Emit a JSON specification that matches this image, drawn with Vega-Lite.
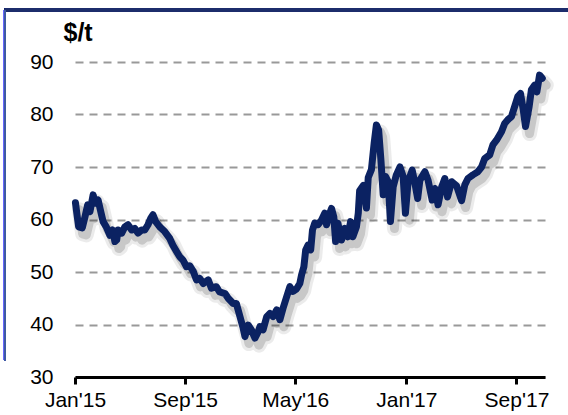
{
  "$schema": "https://vega.github.io/schema/vega-lite/v6.json",
  "autosize": {"type": "none"},
  "width": 470,
  "height": 315,
  "padding": {"left": 75, "top": 62, "right": 23, "bottom": 38},
  "background": "white",
  "config": {"view": {"stroke": null}, "font": "Liberation Sans"},
  "data": {"values": [
    {"date": "2015-01-02", "price": 63.2},
    {"date": "2015-01-05", "price": 61.2},
    {"date": "2015-01-09", "price": 58.6},
    {"date": "2015-01-17", "price": 58.4},
    {"date": "2015-01-23", "price": 60.5},
    {"date": "2015-01-29", "price": 62.8},
    {"date": "2015-02-03", "price": 61.5},
    {"date": "2015-02-10", "price": 64.7},
    {"date": "2015-02-15", "price": 63.1},
    {"date": "2015-02-21", "price": 63.7},
    {"date": "2015-02-25", "price": 62.2},
    {"date": "2015-03-04", "price": 59.6},
    {"date": "2015-03-11", "price": 58.6},
    {"date": "2015-03-19", "price": 57.0},
    {"date": "2015-03-25", "price": 58.0},
    {"date": "2015-03-30", "price": 55.8},
    {"date": "2015-04-03", "price": 56.1},
    {"date": "2015-04-06", "price": 58.0},
    {"date": "2015-04-14", "price": 57.4},
    {"date": "2015-04-21", "price": 58.6},
    {"date": "2015-04-28", "price": 59.0},
    {"date": "2015-05-06", "price": 58.0},
    {"date": "2015-05-13", "price": 58.3},
    {"date": "2015-05-20", "price": 57.4},
    {"date": "2015-05-28", "price": 58.0},
    {"date": "2015-06-04", "price": 58.0},
    {"date": "2015-06-11", "price": 59.0},
    {"date": "2015-06-17", "price": 60.2},
    {"date": "2015-06-22", "price": 60.9},
    {"date": "2015-06-28", "price": 59.6},
    {"date": "2015-07-07", "price": 58.6},
    {"date": "2015-07-18", "price": 57.7},
    {"date": "2015-07-29", "price": 56.4},
    {"date": "2015-08-05", "price": 55.1},
    {"date": "2015-08-13", "price": 53.9},
    {"date": "2015-08-20", "price": 52.9},
    {"date": "2015-08-27", "price": 52.3},
    {"date": "2015-09-04", "price": 51.0},
    {"date": "2015-09-11", "price": 51.2},
    {"date": "2015-09-19", "price": 50.1},
    {"date": "2015-09-26", "price": 48.5},
    {"date": "2015-10-03", "price": 48.8},
    {"date": "2015-10-11", "price": 47.8},
    {"date": "2015-10-22", "price": 48.5},
    {"date": "2015-10-29", "price": 46.9},
    {"date": "2015-11-09", "price": 47.2},
    {"date": "2015-11-16", "price": 46.2},
    {"date": "2015-11-28", "price": 45.9},
    {"date": "2015-12-05", "price": 45.0},
    {"date": "2015-12-16", "price": 44.0},
    {"date": "2015-12-23", "price": 44.0},
    {"date": "2015-12-31", "price": 41.5},
    {"date": "2016-01-07", "price": 39.3},
    {"date": "2016-01-11", "price": 37.7},
    {"date": "2016-01-18", "price": 39.9},
    {"date": "2016-01-25", "price": 39.0},
    {"date": "2016-02-02", "price": 37.4},
    {"date": "2016-02-09", "price": 38.6},
    {"date": "2016-02-13", "price": 39.6},
    {"date": "2016-02-20", "price": 39.0},
    {"date": "2016-02-28", "price": 41.5},
    {"date": "2016-03-06", "price": 42.1},
    {"date": "2016-03-13", "price": 41.5},
    {"date": "2016-03-21", "price": 42.8},
    {"date": "2016-03-28", "price": 40.9},
    {"date": "2016-04-04", "price": 43.1},
    {"date": "2016-04-12", "price": 45.3},
    {"date": "2016-04-19", "price": 47.2},
    {"date": "2016-04-26", "price": 46.3},
    {"date": "2016-05-04", "price": 46.8},
    {"date": "2016-05-11", "price": 47.8},
    {"date": "2016-05-15", "price": 49.5},
    {"date": "2016-05-20", "price": 51.0},
    {"date": "2016-05-24", "price": 54.2},
    {"date": "2016-05-29", "price": 55.1},
    {"date": "2016-06-04", "price": 54.2},
    {"date": "2016-06-08", "price": 58.0},
    {"date": "2016-06-13", "price": 59.3},
    {"date": "2016-06-20", "price": 59.0},
    {"date": "2016-06-28", "price": 59.9},
    {"date": "2016-07-05", "price": 61.2},
    {"date": "2016-07-09", "price": 59.0},
    {"date": "2016-07-15", "price": 60.9},
    {"date": "2016-07-20", "price": 62.1},
    {"date": "2016-07-25", "price": 60.5},
    {"date": "2016-07-29", "price": 55.8},
    {"date": "2016-08-03", "price": 59.3},
    {"date": "2016-08-11", "price": 56.1},
    {"date": "2016-08-18", "price": 58.3},
    {"date": "2016-08-25", "price": 56.7},
    {"date": "2016-08-31", "price": 59.6},
    {"date": "2016-09-05", "price": 56.7},
    {"date": "2016-09-13", "price": 58.6},
    {"date": "2016-09-17", "price": 61.2},
    {"date": "2016-09-20", "price": 65.5},
    {"date": "2016-09-28", "price": 66.5},
    {"date": "2016-10-05", "price": 62.2},
    {"date": "2016-10-09", "price": 68.0},
    {"date": "2016-10-16", "price": 69.5},
    {"date": "2016-10-22", "price": 74.5},
    {"date": "2016-10-27", "price": 78.0},
    {"date": "2016-11-01", "price": 77.0},
    {"date": "2016-11-06", "price": 71.3},
    {"date": "2016-11-11", "price": 64.7},
    {"date": "2016-11-16", "price": 68.2},
    {"date": "2016-11-22", "price": 67.2},
    {"date": "2016-11-27", "price": 59.6},
    {"date": "2016-12-03", "price": 66.2},
    {"date": "2016-12-10", "price": 68.5},
    {"date": "2016-12-18", "price": 70.0},
    {"date": "2016-12-25", "price": 68.2},
    {"date": "2016-12-30", "price": 61.2},
    {"date": "2017-01-05", "price": 67.2},
    {"date": "2017-01-14", "price": 69.4},
    {"date": "2017-01-20", "price": 66.9},
    {"date": "2017-01-26", "price": 64.0},
    {"date": "2017-01-31", "price": 67.5},
    {"date": "2017-02-11", "price": 69.1},
    {"date": "2017-02-18", "price": 67.5},
    {"date": "2017-02-27", "price": 63.7},
    {"date": "2017-03-05", "price": 65.9},
    {"date": "2017-03-12", "price": 62.8},
    {"date": "2017-03-20", "price": 66.2},
    {"date": "2017-03-27", "price": 67.8},
    {"date": "2017-04-02", "price": 64.3},
    {"date": "2017-04-11", "price": 67.2},
    {"date": "2017-04-22", "price": 66.4},
    {"date": "2017-05-03", "price": 63.6},
    {"date": "2017-05-10", "price": 66.6},
    {"date": "2017-05-17", "price": 67.8},
    {"date": "2017-05-28", "price": 68.5},
    {"date": "2017-06-08", "price": 69.1},
    {"date": "2017-06-16", "price": 70.0},
    {"date": "2017-06-23", "price": 71.6},
    {"date": "2017-07-04", "price": 72.3},
    {"date": "2017-07-11", "price": 74.2},
    {"date": "2017-07-19", "price": 75.1},
    {"date": "2017-07-30", "price": 76.7},
    {"date": "2017-08-06", "price": 78.3},
    {"date": "2017-08-13", "price": 79.0},
    {"date": "2017-08-21", "price": 79.6},
    {"date": "2017-08-28", "price": 81.5},
    {"date": "2017-09-04", "price": 83.4},
    {"date": "2017-09-10", "price": 84.0},
    {"date": "2017-09-16", "price": 80.9},
    {"date": "2017-09-21", "price": 77.7},
    {"date": "2017-09-29", "price": 81.5},
    {"date": "2017-10-04", "price": 84.7},
    {"date": "2017-10-11", "price": 85.6},
    {"date": "2017-10-16", "price": 84.3},
    {"date": "2017-10-22", "price": 87.5},
    {"date": "2017-10-28", "price": 86.9}
  ]},
  "encoding": {
    "x": {
      "field": "date", "type": "temporal",
      "scale": {"domain": [{"year": 2015, "month": 1, "date": 1}, {"year": 2017, "month": 11, "date": 3}]},
      "axis": {
        "title": null,
        "values": [
          {"year": 2015, "month": 1, "date": 1},
          {"year": 2015, "month": 9, "date": 1},
          {"year": 2016, "month": 5, "date": 1},
          {"year": 2017, "month": 1, "date": 1},
          {"year": 2017, "month": 9, "date": 1}
        ],
        "format": "%b'%y",
        "grid": false,
        "domainColor": "#000000", "domainWidth": 3,
        "tickColor": "#000000", "tickWidth": 3, "tickSize": 7,
        "labelFontSize": 21, "labelColor": "#000000", "labelPadding": 5,
        "labelFlush": false, "labelOverlap": false
      }
    },
    "y": {
      "field": "price", "type": "quantitative",
      "scale": {"domain": [30, 90], "nice": false, "zero": false},
      "axis": {
        "values": [30, 40, 50, 60, 70, 80, 90],
        "title": "$/t",
        "titleAngle": 0, "titleX": -12, "titleY": -22,
        "titleAlign": "left", "titleBaseline": "alphabetic",
        "titleFontSize": 25, "titleFontWeight": "bold", "titleColor": "#000000",
        "domain": false, "ticks": false, "tickSize": 0,
        "labelFontSize": 21, "labelColor": "#000000", "labelPadding": 22,
        "grid": true, "gridColor": "#999999", "gridWidth": 2, "gridDash": [8, 6]
      }
    }
  },
  "layer": [
    {"mark": {"type": "line", "color": "#000000", "opacity": 0.08, "strokeWidth": 15, "xOffset": 4, "yOffset": 7, "strokeJoin": "round", "strokeCap": "round"}},
    {"mark": {"type": "line", "color": "#000000", "opacity": 0.15, "strokeWidth": 9, "xOffset": 4, "yOffset": 7, "strokeJoin": "round", "strokeCap": "round"}},
    {"mark": {"type": "line", "color": "#0b2262", "strokeWidth": 7, "strokeJoin": "round", "strokeCap": "round"}},
    {
      "mark": {"type": "rule", "color": "#1c2d6b", "strokeWidth": 2.5},
      "encoding": {
        "x": {"datum": {"year": 2014, "month": 7, "date": 30}, "type": "temporal"},
        "x2": {"datum": {"year": 2017, "month": 12, "date": 31}},
        "y": {"datum": 99.9, "type": "quantitative"}
      }
    },
    {
      "mark": {"type": "rule", "color": "#3f5aa3", "strokeWidth": 1.5},
      "encoding": {
        "x": {"datum": {"year": 2014, "month": 7, "date": 30}, "type": "temporal"},
        "y": {"datum": 33.2, "type": "quantitative"},
        "y2": {"datum": 99.9}
      }
    }
  ]
}
